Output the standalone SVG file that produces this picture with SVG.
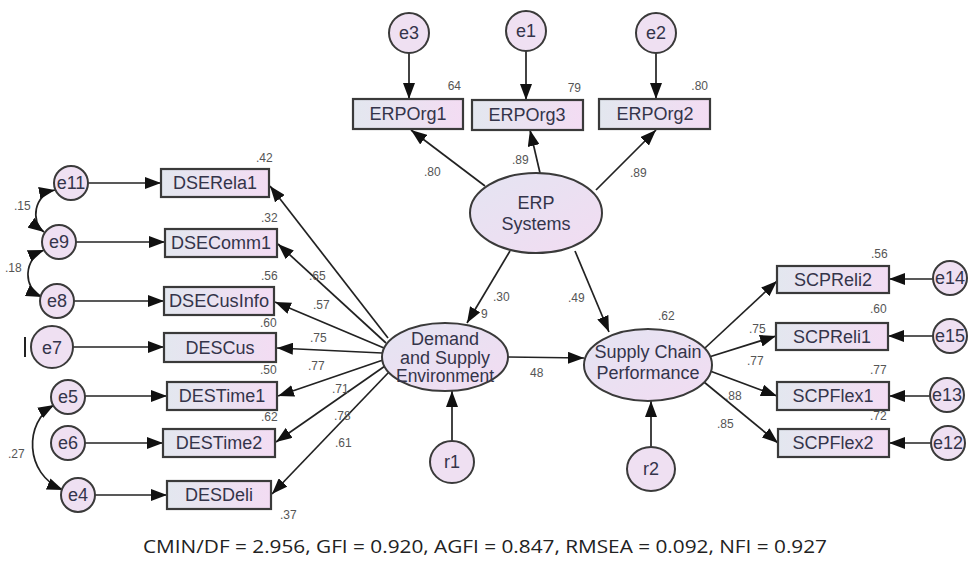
<svg xmlns="http://www.w3.org/2000/svg" width="971" height="562" viewBox="0 0 971 562">
<defs>
<linearGradient id="gb" x1="0" y1="0" x2="1" y2="0"><stop offset="0" stop-color="#e3e7ef"/><stop offset="1" stop-color="#f3dcf3"/></linearGradient>
<linearGradient id="ge" x1="0" y1="0" x2="1" y2="1"><stop offset="0" stop-color="#e4e4f2"/><stop offset="1" stop-color="#f2dcf2"/></linearGradient>
<marker id="ah" viewBox="0 0 16 12" refX="16" refY="6" markerWidth="16" markerHeight="12" markerUnits="userSpaceOnUse" orient="auto-start-reverse"><path d="M0,0 L16,6 L0,12 Z" fill="#111"/></marker>
<style>
.box{fill:url(#gb);stroke:#3a3a3a;stroke-width:2.2}
.ell{fill:url(#ge);stroke:#3a3a3a;stroke-width:2}
.cir{fill:#efe0f2;stroke:#3a3a3a;stroke-width:2}
.t{font-family:"Liberation Sans",Arial,sans-serif;font-size:18px;fill:#34344a;text-anchor:middle}
.ct{font-family:"Liberation Sans",Arial,sans-serif;font-size:18px;fill:#34344a;text-anchor:middle}
.v{font-family:"Liberation Sans",Arial,sans-serif;font-size:12px;fill:#555}
.ln{stroke:#222;stroke-width:1.7;fill:none;marker-end:url(#ah)}
.cv{stroke:#222;stroke-width:1.7;fill:none;marker-start:url(#ah);marker-end:url(#ah)}
.ft{font-family:"Open Sans","Noto Sans",sans-serif;font-size:18px;fill:#222;text-anchor:middle}
</style>
</defs>
<rect width="971" height="562" fill="#fff"/>

<g id="connectors">
<path class="ln" d="M409,53 L409,99"/>
<path class="ln" d="M526,51 L526,100"/>
<path class="ln" d="M656,53 L656,99"/>
<path class="ln" d="M485,186 L411,130"/>
<path class="ln" d="M540,173 L530,130"/>
<path class="ln" d="M596,190 L656,130"/>
<path class="ln" d="M510,251 L467,323"/>
<path class="ln" d="M575,251 L609,332"/>
<path class="ln" d="M508,357 L584,358"/>
<path class="ln" d="M452,441 L452,391"/>
<path class="ln" d="M651,447 L651,401"/>
<path class="ln" d="M388,338 L270,186"/>
<path class="ln" d="M386,343 L278,244"/>
<path class="ln" d="M384,348 L275,302"/>
<path class="ln" d="M382,353 L277,348"/>
<path class="ln" d="M383,360 L278,396"/>
<path class="ln" d="M385,366 L276,442"/>
<path class="ln" d="M389,372 L272,494"/>
<path class="ln" d="M88,183 L161,183"/>
<path class="ln" d="M76,242 L165,242"/>
<path class="ln" d="M74,301 L164,301"/>
<path class="ln" d="M73,347 L164,347"/>
<path class="ln" d="M85,396 L167,396"/>
<path class="ln" d="M85,443 L163,443"/>
<path class="ln" d="M95,495 L167,495"/>
<path class="cv" d="M55,190 C34,194 30,222 44,232"/>
<path class="cv" d="M44,250 C24,258 22,288 42,297"/>
<path class="cv" d="M54,405 C24,422 24,474 63,490"/>
<path d="M25,337 L25,357" stroke="#222" stroke-width="2"/>
<path class="ln" d="M705,348 L777,281"/>
<path class="ln" d="M709,357 L776,336"/>
<path class="ln" d="M710,371 L777,396"/>
<path class="ln" d="M704,382 L778,443"/>
<path class="ln" d="M933,279 L889,279"/>
<path class="ln" d="M933,336 L888,336"/>
<path class="ln" d="M930,396 L889,396"/>
<path class="ln" d="M931,443 L889,443"/>
</g>

<g id="labels">
<text class="v" x="461" y="90" text-anchor="end">64</text>
<text class="v" x="581" y="92" text-anchor="end">79</text>
<text class="v" x="708" y="90" text-anchor="end">.80</text>
<text class="v" x="424" y="176">.80</text>
<text class="v" x="512" y="164">.89</text>
<text class="v" x="630" y="177">.89</text>
<text class="v" x="493" y="301">.30</text>
<text class="v" x="481" y="318">9</text>
<text class="v" x="568" y="302">.49</text>
<text class="v" x="530" y="377">48</text>
<text class="v" x="658" y="320">.62</text>
<text class="v" x="256" y="162">.42</text>
<text class="v" x="261" y="222">.32</text>
<text class="v" x="261" y="280">.56</text>
<text class="v" x="260" y="327">.60</text>
<text class="v" x="260" y="374">.50</text>
<text class="v" x="261" y="421">.62</text>
<text class="v" x="280" y="519">.37</text>
<text class="v" x="309" y="280">.65</text>
<text class="v" x="313" y="309">.57</text>
<text class="v" x="310" y="342">.75</text>
<text class="v" x="308" y="370">.77</text>
<text class="v" x="332" y="393">.71</text>
<text class="v" x="334" y="420">.78</text>
<text class="v" x="335" y="447">.61</text>
<text class="v" x="14" y="210">.15</text>
<text class="v" x="5" y="272">.18</text>
<text class="v" x="8" y="458">.27</text>
<text class="v" x="871" y="258">.56</text>
<text class="v" x="870" y="313">.60</text>
<text class="v" x="870" y="374">.77</text>
<text class="v" x="870" y="420">.72</text>
<text class="v" x="749" y="333">.75</text>
<text class="v" x="747" y="365">.77</text>
<text class="v" x="725" y="400">.88</text>
<text class="v" x="717" y="428">.85</text>
</g>

<g id="e3"><circle class="cir" cx="409" cy="33" r="20"/><text class="ct" x="409" y="39">e3</text></g>
<g id="e1"><circle class="cir" cx="526" cy="31" r="20"/><text class="ct" x="526" y="37">e1</text></g>
<g id="e2"><circle class="cir" cx="656" cy="33" r="20"/><text class="ct" x="656" y="39">e2</text></g>

<g id="ERPOrg1"><rect class="box" x="353" y="99" width="110" height="30"/><text class="t" x="408" y="120">ERPOrg1</text></g>
<g id="ERPOrg3"><rect class="box" x="472" y="100" width="111" height="30"/><text class="t" x="527" y="121">ERPOrg3</text></g>
<g id="ERPOrg2"><rect class="box" x="599" y="99" width="111" height="30"/><text class="t" x="655" y="120">ERPOrg2</text></g>

<g id="ERPSystems"><ellipse class="ell" cx="536" cy="213" rx="66" ry="40"/><text class="t" x="536" y="209">ERP</text><text class="t" x="536" y="230">Systems</text></g>
<g id="DSE"><ellipse class="ell" cx="445" cy="357" rx="63" ry="34"/><text class="t" x="445" y="345" font-size="14">Demand</text><text class="t" x="445" y="363.5" font-size="14">and Supply</text><text class="t" x="445" y="382" font-size="14" textLength="98" lengthAdjust="spacingAndGlyphs">Environment</text></g>
<g id="SCP"><ellipse class="ell" cx="648" cy="365" rx="64" ry="36"/><text class="t" x="648" y="358">Supply Chain</text><text class="t" x="648" y="379">Performance</text></g>

<g id="r1"><ellipse class="cir" cx="452" cy="462" rx="22" ry="21"/><text class="ct" x="452" y="468">r1</text></g>
<g id="r2"><ellipse class="cir" cx="651" cy="469" rx="24" ry="22"/><text class="ct" x="651" y="475">r2</text></g>

<g id="DSERela1"><rect class="box" x="161" y="169" width="108" height="28"/><text class="t" x="215" y="189">DSERela1</text></g>
<g id="DSEComm1"><rect class="box" x="165" y="229" width="112" height="28"/><text class="t" x="221" y="249">DSEComm1</text></g>
<g id="DSECusInfo"><rect class="box" x="164" y="287" width="110" height="28"/><text class="t" x="219" y="307" textLength="100" lengthAdjust="spacingAndGlyphs">DSECusInfo</text></g>
<g id="DESCus"><rect class="box" x="164" y="333" width="112" height="29"/><text class="t" x="220" y="354">DESCus</text></g>
<g id="DESTime1"><rect class="box" x="167" y="382" width="110" height="28"/><text class="t" x="222" y="402">DESTime1</text></g>
<g id="DESTime2"><rect class="box" x="163" y="429" width="112" height="28"/><text class="t" x="219" y="449">DESTime2</text></g>
<g id="DESDeli"><rect class="box" x="167" y="481" width="104" height="28"/><text class="t" x="219" y="501">DESDeli</text></g>

<g id="e11"><circle class="cir" cx="71" cy="183" r="17"/><text class="ct" x="71" y="189">e11</text></g>
<g id="e9"><circle class="cir" cx="59" cy="242" r="17"/><text class="ct" x="59" y="248">e9</text></g>
<g id="e8"><circle class="cir" cx="57" cy="301" r="17"/><text class="ct" x="57" y="307">e8</text></g>
<g id="e7"><circle class="cir" cx="52" cy="347" r="21"/><text class="ct" x="52" y="354" font-size="21">e7</text></g>
<g id="e5"><circle class="cir" cx="68" cy="397" r="17"/><text class="ct" x="68" y="403">e5</text></g>
<g id="e6"><circle class="cir" cx="68" cy="443" r="17"/><text class="ct" x="68" y="449">e6</text></g>
<g id="e4"><circle class="cir" cx="78" cy="495" r="17"/><text class="ct" x="78" y="501">e4</text></g>

<g id="SCPReli2"><rect class="box" x="777" y="266" width="112" height="27"/><text class="t" x="833" y="286">SCPReli2</text></g>
<g id="SCPReli1"><rect class="box" x="776" y="323" width="112" height="27"/><text class="t" x="832" y="343">SCPReli1</text></g>
<g id="SCPFlex1"><rect class="box" x="777" y="382" width="112" height="28"/><text class="t" x="833" y="402">SCPFlex1</text></g>
<g id="SCPFlex2"><rect class="box" x="778" y="429" width="111" height="28"/><text class="t" x="833" y="449">SCPFlex2</text></g>

<g id="e14"><circle class="cir" cx="950" cy="278" r="17"/><text class="ct" x="950" y="284">e14</text></g>
<g id="e15"><circle class="cir" cx="950" cy="336" r="17"/><text class="ct" x="950" y="342">e15</text></g>
<g id="e13"><circle class="cir" cx="947" cy="395" r="17"/><text class="ct" x="947" y="401">e13</text></g>
<g id="e12"><circle class="cir" cx="948" cy="443" r="17"/><text class="ct" x="948" y="449">e12</text></g>

<text class="ft" x="485" y="553" textLength="684" lengthAdjust="spacingAndGlyphs">CMIN/DF = 2.956, GFI = 0.920, AGFI = 0.847, RMSEA = 0.092, NFI = 0.927</text>
</svg>
